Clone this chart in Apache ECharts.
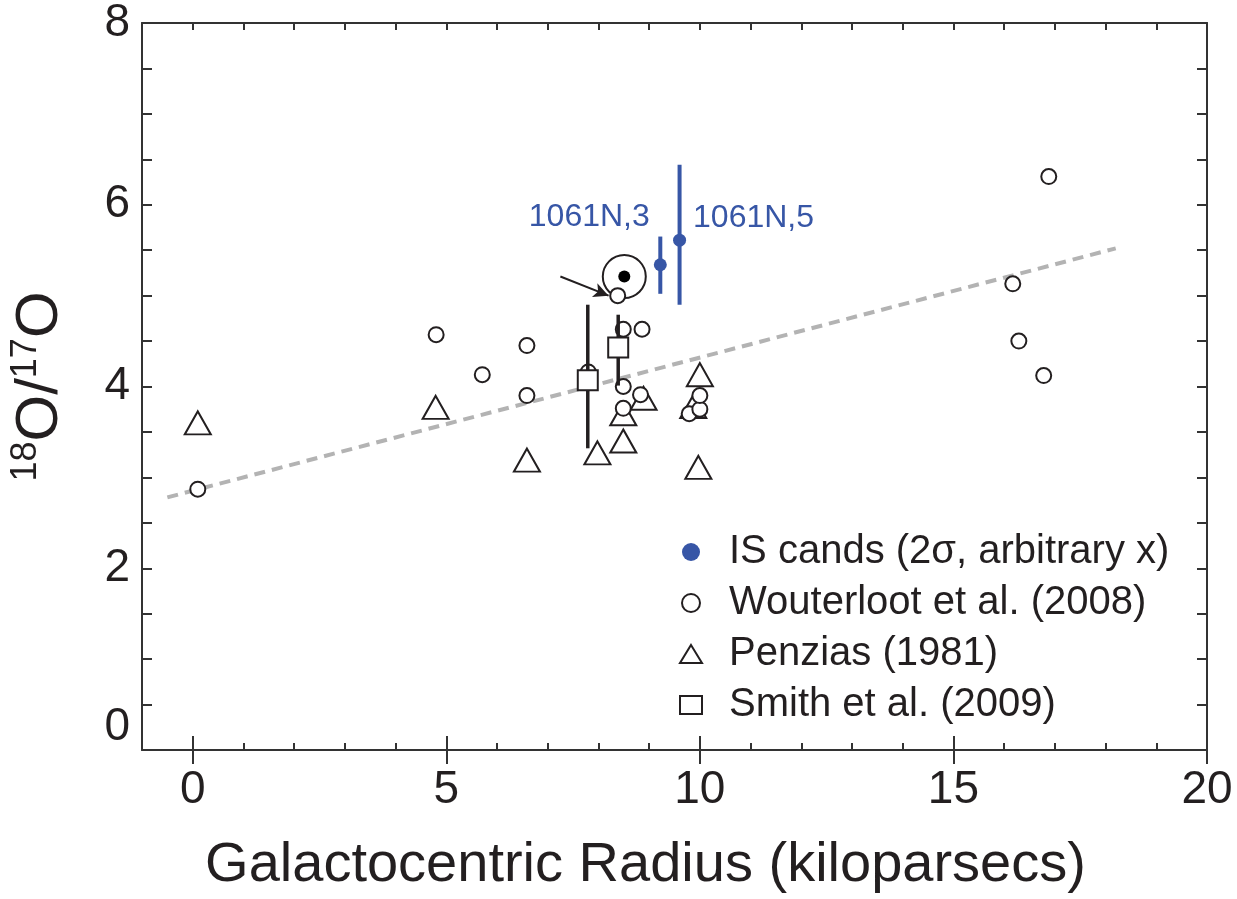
<!DOCTYPE html>
<html>
<head>
<meta charset="utf-8">
<title>18O/17O vs Galactocentric Radius</title>
<script src="https://cdn.jsdelivr.net/npm/echarts@6/dist/echarts.min.js"></script>
<style>
    html, body { margin: 0; padding: 0; background: #fff; }
    #oxygen_ratio { width: 1237px; height: 899px; }
</style>
</head>
<body>
<div id="oxygen_ratio"></div>
<script>

// Chart data
// ------------------------------

var xTickLabels = [0, 5, 10, 15, 20];
var yTickLabels = [0, 2, 4, 6, 8];

// IS candidates: [x, y], names and 2 sigma bars [x, low, high]
var isCandNames = ['1061N,3', '1061N,5'];
var isCandPoints = [[9.22, 5.34], [9.60, 5.61]];
var isCandErrors = [[9.22, 5.02, 5.65], [9.60, 4.90, 6.44]];

// Wouterloot et al. (2008)
var wouterlootPoints = [
    [0.10, 2.87], [4.80, 4.57], [5.71, 4.13], [6.59, 4.45], [6.59, 3.90],
    [7.80, 4.16], [8.38, 5.00], [8.49, 4.63], [8.86, 4.63], [8.49, 4.00],
    [8.83, 3.91], [8.49, 3.76], [9.79, 3.70], [10.00, 3.75], [10.00, 3.90],
    [16.17, 5.13], [16.29, 4.50], [16.78, 4.12], [16.88, 6.31]
];

// Penzias (1981)
var penziasPoints = [
    [0.10, 3.60], [4.79, 3.77], [6.59, 3.19], [7.98, 3.27], [8.49, 3.40],
    [8.49, 3.70], [8.89, 3.87], [9.87, 3.78], [9.97, 3.11], [10.00, 4.13]
];

// Smith et al. (2009) with bars [x, low, high]
var smithPoints = [[7.79, 4.07], [8.39, 4.43]];
var smithErrors = [[7.79, 3.32, 4.90], [8.39, 4.01, 4.79]];

// Solar value, gradient fit and arrow
var solarPoint = [[8.51, 5.21]];
var trendLine = [[-0.5, 2.78], [18.2, 5.52]];
var arrowFrom = [7.25, 5.21];
var arrowTo = [8.20, 5.00];


// Setup module
// ------------------------------

var OxygenRatioChart = function() {

    var _oxygenRatioExample = function() {
        if (typeof echarts == 'undefined') {
            console.warn('Warning - echarts.min.js is not loaded.');
            return;
        }

        var chart_element = document.getElementById('oxygen_ratio');
        if (!chart_element) return;

        var chart = echarts.init(chart_element);

        var ink = '#231f20';
        var blue = '#3756a6';
        var font = 'Liberation Sans, Arial, Helvetica, sans-serif';

        // Vertical bars drawn from data
        var renderBar = function(color, width) {
            return function(params, api) {
                var lo = api.coord([api.value(0), api.value(1)]);
                var hi = api.coord([api.value(0), api.value(2)]);
                return {
                    type: 'line',
                    shape: { x1: lo[0], y1: lo[1], x2: hi[0], y2: hi[1] },
                    style: { stroke: color, lineWidth: width }
                };
            };
        };

        var openStyle = { color: '#fff', borderColor: ink, borderWidth: 2, opacity: 1 };

        var baseX = {
            type: 'value',
            min: -1,
            max: 20,
            splitLine: { show: false }
        };

        chart.setOption({
            animation: false,

            textStyle: {
                fontFamily: font,
                color: ink
            },

            grid: {
                left: 141,
                right: 30,
                top: 21,
                bottom: 142,
                containLabel: false
            },

            legend: {
                orient: 'vertical',
                left: 674,
                top: 527,
                itemWidth: 22,
                itemHeight: 18,
                itemGap: 11,
                selectedMode: false,
                textStyle: {
                    fontSize: 40,
                    color: ink,
                    fontFamily: font,
                    padding: [0, 0, 0, 22]
                },
                data: [
                    'IS cands (2σ, arbitrary x)',
                    'Wouterloot et al. (2008)',
                    'Penzias (1981)',
                    'Smith et al. (2009)'
                ]
            },

            // Horizontal axes: bottom minor + major, top minor + major
            xAxis: [
                Object.assign({}, baseX, {
                    position: 'bottom',
                    interval: 1,
                    name: 'Galactocentric Radius (kiloparsecs)',
                    nameLocation: 'middle',
                    nameGap: 88,
                    nameTextStyle: {
                        fontSize: 56,
                        color: ink,
                        padding: [0, 58, 0, 0]
                    },
                    axisLine: { show: true, onZero: false, lineStyle: { color: '#333', width: 2 } },
                    axisTick: { show: true, inside: true, length: 7, lineStyle: { color: '#333', width: 2 } },
                    axisLabel: {
                        customValues: xTickLabels,
                        fontSize: 46,
                        color: ink,
                        margin: 17
                    }
                }),
                Object.assign({}, baseX, {
                    position: 'bottom',
                    axisLine: { show: false },
                    axisTick: { show: true, inside: true, length: 14, customValues: xTickLabels, lineStyle: { color: '#333', width: 2 } },
                    axisLabel: { show: false }
                }),
                Object.assign({}, baseX, {
                    position: 'top',
                    interval: 1,
                    axisLine: { show: true, onZero: false, lineStyle: { color: '#333', width: 2 } },
                    axisTick: { show: true, inside: true, length: 7, lineStyle: { color: '#333', width: 2 } },
                    axisLabel: { show: false }
                }),
                Object.assign({}, baseX, {
                    position: 'top',
                    axisLine: { show: false },
                    axisTick: { show: true, inside: true, length: 14, customValues: xTickLabels, lineStyle: { color: '#333', width: 2 } },
                    axisLabel: { show: false }
                })
            ],

            // Vertical axes
            yAxis: [
                {
                    type: 'value',
                    position: 'left',
                    min: 0,
                    max: 8,
                    interval: 2,
                    name: '{sup|18}{main|O/}{sup|17}{main|O}',
                    nameLocation: 'middle',
                    nameGap: 72,
                    nameTextStyle: {
                        color: ink,
                        rich: {
                            main: { fontSize: 60, fontFamily: font, color: ink, lineHeight: 62, verticalAlign: 'bottom' },
                            sup: { fontSize: 36, fontFamily: font, color: ink, lineHeight: 62, verticalAlign: 'top', padding: [0, 0, 22, 0] }
                        }
                    },
                    axisLine: { show: true, onZero: false, lineStyle: { color: '#333', width: 2 } },
                    axisTick: { show: true, inside: true, length: 10, lineStyle: { color: '#333', width: 2 } },
                    minorTick: { show: true, splitNumber: 4, length: 10, lineStyle: { color: '#333', width: 2 } },
                    axisLabel: {
                        customValues: yTickLabels,
                        fontSize: 46,
                        color: ink,
                        margin: 12,
                        verticalAlignMinLabel: 'bottom'
                    },
                    splitLine: { show: false }
                },
                {
                    type: 'value',
                    position: 'right',
                    min: 0,
                    max: 8,
                    interval: 2,
                    axisLine: { show: true, onZero: false, lineStyle: { color: '#333', width: 2 } },
                    axisTick: { show: true, inside: true, length: 10, lineStyle: { color: '#333', width: 2 } },
                    minorTick: { show: true, splitNumber: 4, length: 10, lineStyle: { color: '#333', width: 2 } },
                    axisLabel: { show: false },
                    splitLine: { show: false }
                }
            ],

            series: [
                {
                    name: 'gradient',
                    type: 'line',
                    z: 1,
                    symbol: 'none',
                    silent: true,
                    lineStyle: { color: '#b3b3b3', width: 4, type: [11, 7] },
                    data: trendLine
                },
                {
                    name: 'Penzias (1981)',
                    type: 'scatter',
                    z: 2,
                    symbol: 'triangle',
                    symbolSize: [26, 23],
                    itemStyle: openStyle,
                    data: penziasPoints
                },
                {
                    name: 'solar',
                    type: 'scatter',
                    z: 2,
                    symbol: 'circle',
                    symbolSize: 43,
                    itemStyle: { color: 'rgba(0,0,0,0)', borderColor: ink, borderWidth: 2, opacity: 1 },
                    data: solarPoint,
                    markLine: {
                        silent: true,
                        symbol: ['none', 'arrow'],
                        symbolSize: [11, 15],
                        label: { show: false },
                        lineStyle: { color: ink, width: 2, type: 'solid' },
                        data: [[{ coord: arrowFrom }, { coord: arrowTo }]]
                    }
                },
                {
                    name: 'solar dot',
                    type: 'scatter',
                    z: 3,
                    symbol: 'circle',
                    symbolSize: 12,
                    itemStyle: { color: '#000', opacity: 1 },
                    data: solarPoint
                },
                {
                    name: 'Wouterloot et al. (2008)',
                    type: 'scatter',
                    z: 3,
                    symbol: 'circle',
                    symbolSize: 15,
                    itemStyle: openStyle,
                    data: wouterlootPoints
                },
                {
                    name: 'smith bars',
                    type: 'custom',
                    z: 4,
                    renderItem: renderBar(ink, 3.5),
                    data: smithErrors
                },
                {
                    name: 'Smith et al. (2009)',
                    type: 'scatter',
                    z: 5,
                    symbol: 'rect',
                    symbolSize: 20,
                    itemStyle: openStyle,
                    data: smithPoints
                },
                {
                    name: 'is bars',
                    type: 'custom',
                    z: 4,
                    renderItem: renderBar(blue, 4),
                    data: isCandErrors
                },
                {
                    name: 'IS cands (2σ, arbitrary x)',
                    type: 'scatter',
                    z: 5,
                    symbol: 'circle',
                    symbolSize: 13,
                    itemStyle: { color: blue, opacity: 1 },
                    label: {
                        show: true,
                        formatter: '{b}',
                        fontSize: 32,
                        color: blue,
                        fontFamily: font
                    },
                    data: [
                        {
                            name: isCandNames[0],
                            value: isCandPoints[0],
                            label: { position: [-4, -41], align: 'right', verticalAlign: 'middle' }
                        },
                        {
                            name: isCandNames[1],
                            value: isCandPoints[1],
                            label: { position: [20, -16], align: 'left', verticalAlign: 'middle' }
                        }
                    ]
                }
            ]
        });

        // Resize function
        var resizeCharts;
        window.addEventListener('resize', function() {
            clearTimeout(resizeCharts);
            resizeCharts = setTimeout(function () {
                chart.resize();
            }, 200);
        });
    };

    return {
        init: function() {
            _oxygenRatioExample();
        }
    }
}();


// Initialize module
// ------------------------------

document.addEventListener('DOMContentLoaded', function() {
    OxygenRatioChart.init();
});
</script>
</body>
</html>
